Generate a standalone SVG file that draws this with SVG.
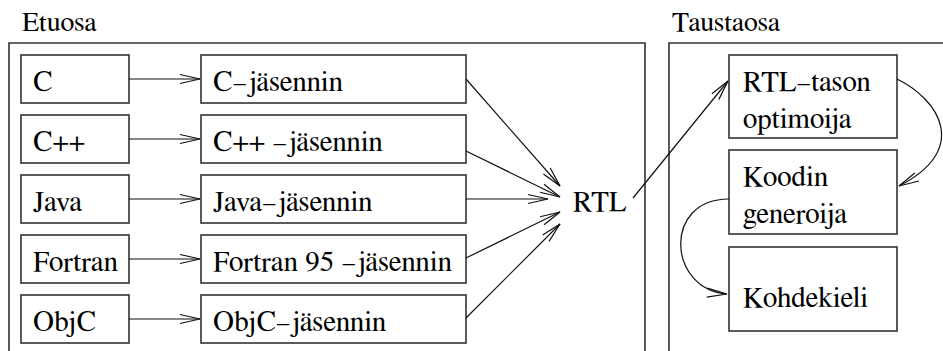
<svg xmlns="http://www.w3.org/2000/svg" width="943" height="351" viewBox="0 0 943 351">
  <defs>
    <style>
      .frame { fill: none; stroke: #333; stroke-width: 1.6; }
      .box { fill: #fff; stroke: #333; stroke-width: 1.6; }
      .edge { fill: none; stroke: #111; stroke-width: 1.2; }
      text { font-family: FreeSerif, "Liberation Serif", serif; font-size: 29px; fill: #000; }
      .head { font-size: 28px; }
    </style>
    <!-- open two-stroke arrowhead -->
    <marker id="open" markerUnits="userSpaceOnUse" markerWidth="24" markerHeight="12" viewBox="-21 -6 23 12" refX="0" refY="0" orient="auto" overflow="visible">
      <path d="M-20,-4.5 L0,0 L-20,4.5" fill="none" stroke="#111" stroke-width="1.2"/>
    </marker>
  </defs>

  <!-- front end frame -->
  <g id="etuosa">
    <text class="head" x="22" y="31">Etuosa</text>
    <path class="frame" d="M9,360 V43 H645 V360"/>
  </g>

  <!-- back end frame -->
  <g id="taustaosa">
    <text class="head" x="672" y="31">Taustaosa</text>
    <path class="frame" d="M669,360 V43 H950"/>
  </g>

  <!-- source languages -->
  <g id="lang-c"><rect class="box" x="21" y="55" width="108" height="48"/><text x="33" y="91">C</text></g>
  <g id="lang-cpp"><rect class="box" x="21" y="115" width="108" height="48"/><text x="33" y="151">C++</text></g>
  <g id="lang-java"><rect class="box" x="21" y="175" width="108" height="48"/><text x="33" y="211">Java</text></g>
  <g id="lang-fortran"><rect class="box" x="21" y="235" width="108" height="48"/><text x="33" y="271">Fortran</text></g>
  <g id="lang-objc"><rect class="box" x="21" y="295" width="108" height="48"/><text x="33" y="331">ObjC</text></g>

  <!-- parsers -->
  <g id="parser-c"><rect class="box" x="201" y="55" width="265" height="48"/><text x="213" y="91">C–jäsennin</text></g>
  <g id="parser-cpp"><rect class="box" x="201" y="115" width="265" height="48"/><text x="213" y="151">C++ –jäsennin</text></g>
  <g id="parser-java"><rect class="box" x="201" y="175" width="265" height="48"/><text x="213" y="211">Java–jäsennin</text></g>
  <g id="parser-fortran"><rect class="box" x="201" y="235" width="265" height="48"/><text x="213" y="271">Fortran 95 –jäsennin</text></g>
  <g id="parser-objc"><rect class="box" x="201" y="295" width="265" height="48"/><text x="213" y="331">ObjC–jäsennin</text></g>

  <!-- intermediate representation -->
  <g id="rtl"><text x="573" y="211">RTL</text></g>

  <!-- back end stages -->
  <g id="optimizer"><rect class="box" x="729" y="55" width="168" height="83"/><text x="743" y="91">RTL–tason</text><text x="743" y="128">optimoija</text></g>
  <g id="codegen"><rect class="box" x="729" y="150" width="168" height="84"/><text x="743" y="186">Koodin</text><text x="743" y="223">generoija</text></g>
  <g id="target"><rect class="box" x="729" y="247" width="168" height="84"/><text x="743" y="307">Kohdekieli</text></g>

  <!-- connectors -->
  <g id="edges">
    <path class="edge" marker-end="url(#open)" d="M129,79 H200"/>
    <path class="edge" marker-end="url(#open)" d="M129,139 H200"/>
    <path class="edge" marker-end="url(#open)" d="M129,199 H200"/>
    <path class="edge" marker-end="url(#open)" d="M129,259 H200"/>
    <path class="edge" marker-end="url(#open)" d="M129,319 H200"/>

    <path class="edge" marker-end="url(#open)" d="M466,79 L560,186"/>
    <path class="edge" marker-end="url(#open)" d="M466,151 L560,197"/>
    <path class="edge" marker-end="url(#open)" d="M466,199 H548"/>
    <path class="edge" marker-end="url(#open)" d="M466,258 L560,212"/>
    <path class="edge" marker-end="url(#open)" d="M466,318 L560,224"/>

    <path class="edge" marker-end="url(#open)" d="M633,198 L728,81"/>
    <path class="edge" marker-end="url(#open)" d="M897,79 C940,100 970,150 899,186"/>
    <path class="edge" marker-end="url(#open)" d="M729,199 C662,199 668,290 727,294"/>
  </g>
</svg>
